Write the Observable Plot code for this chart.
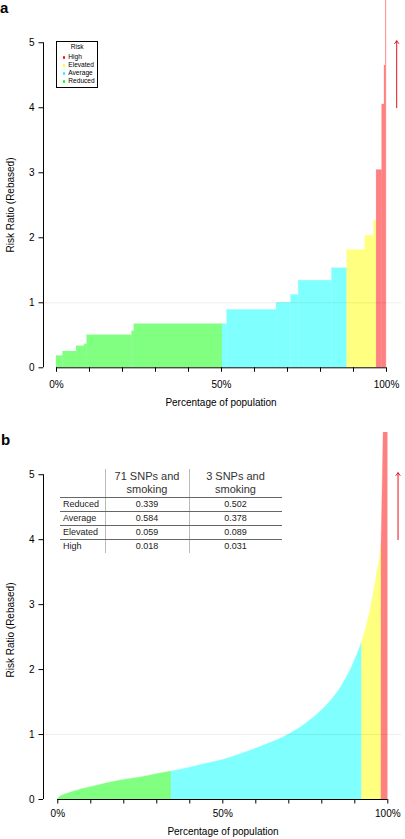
<!DOCTYPE html>
<html><head><meta charset="utf-8">
<script src="https://cdn.jsdelivr.net/npm/d3@7"></script>
<script src="https://cdn.jsdelivr.net/npm/@observablehq/plot@0.6"></script>
<style>
html,body{margin:0;padding:0;background:#fff;}
body{position:relative;width:405px;height:839px;overflow:hidden;font-family:"Liberation Sans",Arial,sans-serif;color:#000;}
.panel{position:absolute;left:0;width:405px;}
.tag{position:absolute;font-weight:bold;font-size:15px;line-height:15px;}
.ytitle{position:absolute;width:200px;text-align:center;font-size:10px;line-height:10px;transform:rotate(-90deg);white-space:nowrap;}
.xtitle{position:absolute;width:200px;text-align:center;font-size:10px;line-height:10px;white-space:nowrap;}
.legend{position:absolute;left:56px;top:40.7px;width:40.3px;height:45.6px;border:1px solid #000;font-size:6.6px;line-height:6.6px;}
.legend .ttl{position:absolute;left:0;width:100%;text-align:center;top:2px;}
.legend .item{position:absolute;left:0;width:100%;}
.legend .dot{position:absolute;left:6.1px;width:2.4px;height:2.4px;border-radius:50%;top:2.1px;}
.legend .lab{position:absolute;left:11.3px;top:0;white-space:nowrap;}
table.tbl{position:absolute;left:60px;top:37px;border-collapse:collapse;color:#222;}
table.tbl td{padding:0;text-align:center;vertical-align:middle;}
table.tbl tr.h td{height:27.7px;font-size:11px;line-height:12.6px;color:#333;}
table.tbl tr.r td{height:13px;font-size:9px;line-height:9px;}
table.tbl tr.h td, table.tbl tr.r:not(:last-child) td{border-bottom:1px solid #666;}
table.tbl td.c1{width:45px;text-align:left;padding-left:3px;box-sizing:border-box;}
table.tbl td.c2{width:83px;border-left:1px solid #bbb;}
table.tbl td.c3{width:92px;border-left:1px solid #bbb;}
</style></head><body>
<div id="pa" class="panel" style="top:0;height:432px"></div>
<div id="pb" class="panel" style="top:432px;height:407px"></div>
<script>
// ---- shared data ----
const riskLevels = ["High", "Elevated", "Average", "Reduced"];
const fillColors = ["#FF8080", "#FFFF80", "#80FFFF", "#80FF80"];
const legendDotColors = ["#FF0000", "#FFFF00", "#00FFFF", "#00FF00"];
const xTicks = [0, 10, 20, 30, 40, 50, 60, 70, 80, 90, 100];
const xTickLabels = ["0%", "", "", "", "", "50%", "", "", "", "", "100%"];
const yTicks = [0, 1, 2, 3, 4, 5];
const refLine = [1];
const arrowX = [103.1];
const arrowFrom = [4.0];
const arrowTo = [5.03];
const xTitle = "Percentage of population";
const yTitle = "Risk Ratio (Rebased)";

// ---- panel a: step data ----
const aStepStart = [0, 2.0, 6.1, 8.5, 9.3, 22.9, 23.6, 50.3, 51.7, 66.7, 71.1, 73.4, 83.5, 88.1, 93.6, 96.2, 97.0, 98.7, 99.4, 99.8];
const aStepValue = [0.18, 0.25, 0.33, 0.36, 0.5, 0.56, 0.67, 0.67, 0.89, 1.0, 1.12, 1.34, 1.53, 1.81, 2.03, 2.26, 3.04, 4.05, 4.65, 6.5];
const aStepRisk = ["Reduced","Reduced","Reduced","Reduced","Reduced","Reduced","Reduced",
  "Average","Average","Average","Average","Average","Average",
  "Elevated","Elevated","Elevated",
  "High","High","High","High"];

// ---- panel b: curve data ----
const bPct = [0, 0.5, 1, 3, 6, 10, 15, 20, 25, 30, 34.5,
  34.5, 40, 45, 50, 55, 60, 65, 70, 75, 80, 83, 86, 89, 92.2,
  92.2, 94, 95.3, 96.5, 97.8, 98.1,
  98.1, 98.5, 99, 100];
const bRR = [0, 0.03, 0.05, 0.09, 0.14, 0.19, 0.25, 0.30, 0.34, 0.39, 0.43,
  0.43, 0.49, 0.55, 0.61, 0.69, 0.78, 0.88, 1.0, 1.16, 1.37, 1.53, 1.74, 2.02, 2.42,
  2.42, 2.75, 3.06, 3.4, 3.8, 3.95,
  3.95, 5.0, 6.5, 9];
const bRisk = ["Reduced","Reduced","Reduced","Reduced","Reduced","Reduced","Reduced","Reduced","Reduced","Reduced","Reduced",
  "Average","Average","Average","Average","Average","Average","Average","Average","Average","Average","Average","Average","Average","Average",
  "Elevated","Elevated","Elevated","Elevated","Elevated","Elevated",
  "High","High","High","High"];

// ---- table (panel b) ----
const tableHeader = ["", "71 SNPs and<br>smoking", "3 SNPs and<br>smoking"];
const tableRows = ["Reduced", "Average", "Elevated", "High"];
const table71 = ["0.339", "0.584", "0.059", "0.018"];
const table3 = ["0.502", "0.378", "0.089", "0.031"];

// ---- build ----
const aRows = aStepStart.map((s, i) => ({start: s, end: i + 1 < aStepStart.length ? aStepStart[i + 1] : 100, value: aStepValue[i], risk: aStepRisk[i]}));
const bRows = bPct.map((p, i) => ({pct: p, rr: bRR[i], risk: bRisk[i]}));
const arrows = arrowX.map((x, i) => ({x, from: arrowFrom[i], to: arrowTo[i]}));
const tickLabelMap = new Map(xTicks.map((t, i) => [t, xTickLabels[i]]));

function makePlot(dataMark, cfg) {
  return Plot.plot({
    width: 405,
    height: cfg.height,
    marginLeft: 43, marginRight: 4, marginTop: 0, marginBottom: cfg.marginBottom,
    style: {fontFamily: "Liberation Sans, Arial, sans-serif", fontSize: "10px", background: "#fff", color: "#000"},
    x: {domain: cfg.xDomain},
    y: {domain: [0, 5.65]},
    color: {type: "ordinal", domain: riskLevels, range: fillColors},
    marks: [
      dataMark,
      Plot.ruleY(refLine, {stroke: "#000", strokeOpacity: 0.07}),
      Plot.ruleY([0], {x1: xTicks[0], x2: xTicks[xTicks.length - 1], stroke: "#000"}),
      Plot.ruleX([cfg.xDomain[0]], {y1: yTicks[0], y2: yTicks[yTicks.length - 1], stroke: "#000"}),
      Plot.axisX(xTicks, {tickFormat: d => tickLabelMap.get(d), tickSize: 4.5, tickPadding: cfg.tickPad, fontSize: 10, label: null}),
      Plot.axisY(yTicks, {tickFormat: d => String(d), tickSize: 4.5, tickPadding: 4.5, fontSize: 10, label: null}),
      Plot.arrow(arrows, {x1: "x", x2: "x", y1: "from", y2: "to", stroke: "#E8101A", strokeWidth: 1, headLength: 5, headAngle: 75})
    ]
  });
}

function addText(el, cls, txt, style) {
  const d = document.createElement("div");
  d.className = cls; d.innerHTML = txt; Object.assign(d.style, style); el.appendChild(d); return d;
}

// Panel a
const pa = document.getElementById("pa");
pa.appendChild(makePlot(
  Plot.rect(aRows, {x1: "start", x2: "end", y1: 0, y2: "value", fill: "risk", stroke: "risk", strokeWidth: 0.3, inset: 0, clip: true}),
  {height: 432, marginBottom: 64.7, xDomain: [-3.94, 104.55], tickPad: 8.5}
));
addText(pa, "tag", "a", {left: "0px", top: "0px"});
addText(pa, "ytitle", yTitle, {left: (11 - 100) + "px", top: (205 - 5) + "px"});
addText(pa, "xtitle", xTitle, {left: (221 - 100) + "px", top: (402.7 - 5) + "px"});
// legend
const lg = addText(pa, "legend", "", {});
addText(lg, "ttl", "Risk", {});
riskLevels.forEach((r, i) => {
  const it = addText(lg, "item", "", {top: (12.5 + i * 8) + "px"});
  addText(it, "dot", "", {background: legendDotColors[i]});
  addText(it, "lab", r, {});
});

// Panel b
const pb = document.getElementById("pb");
pb.appendChild(makePlot(
  Plot.area(bRows, {x1: "pct", y1: 0, y2: "rr", z: "risk", fill: "risk", stroke: "risk", strokeWidth: 0.3, curve: "monotone-x", clip: true}),
  {height: 407, marginBottom: 40, xDomain: [-4.33, 104.15], tickPad: 6}
));
addText(pb, "tag", "b", {left: "1px", top: "0px"});
addText(pb, "ytitle", yTitle, {left: (11 - 100) + "px", top: (198 - 5) + "px"});
addText(pb, "xtitle", xTitle, {left: (223 - 100) + "px", top: (399.7 - 5) + "px"});
// table
let html = '<tr class="h"><td class="c1">' + tableHeader[0] + '</td><td class="c2">' + tableHeader[1] + '</td><td class="c3">' + tableHeader[2] + '</td></tr>';
tableRows.forEach((r, i) => {
  html += '<tr class="r"><td class="c1">' + r + '</td><td class="c2">' + table71[i] + '</td><td class="c3">' + table3[i] + '</td></tr>';
});
const tb = document.createElement("table");
tb.className = "tbl"; tb.innerHTML = html; pb.appendChild(tb);
</script>
</body></html>
